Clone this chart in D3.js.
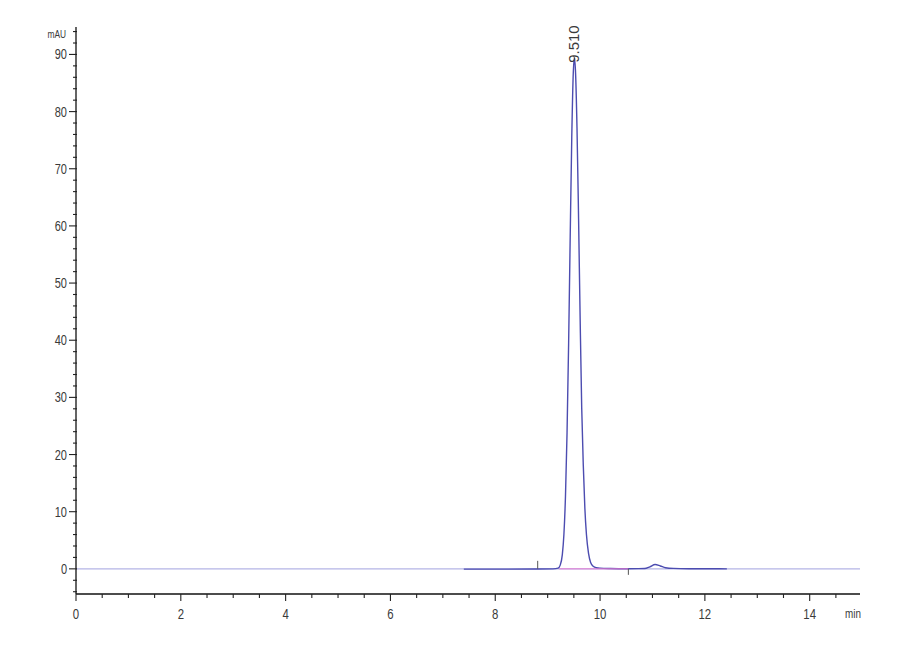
<!DOCTYPE html>
<html>
<head>
<meta charset="utf-8">
<title>Chromatogram</title>
<script src="https://cdn.jsdelivr.net/npm/d3@7"></script>
<style>
  body { margin: 0; background: #fff; }
  svg text { font-family: "Liberation Sans", Arial, sans-serif; fill: #3a3a3a; }
</style>
</head>
<body>
<svg id="chart" width="900" height="660"></svg>
<script>
// signal trace (min, mAU)
var traceTime = [7.40, 8.00, 8.80, 9.10, 9.20, 9.24, 9.28, 9.31, 9.34, 9.37, 9.40, 9.43, 9.46, 9.49, 9.51,
                 9.53, 9.56, 9.59, 9.62, 9.65, 9.68, 9.71, 9.74, 9.78, 9.82, 9.87, 9.93, 10.00, 10.20, 10.50,
                 10.85, 10.95, 11.05, 11.15, 11.25, 11.40, 11.70, 12.00, 12.42];
var traceMAU  = [-0.05, -0.05, -0.02, 0.00, 0.13, 0.65, 2.5, 6.0, 12.7, 23.8, 39.4, 58.0, 75.5, 87.0, 89.4,
                 87.3, 77.1, 61.3, 43.7, 28.1, 18.1, 10.6, 6.0, 2.7, 1.1, 0.45, 0.2, 0.12, 0.06, 0.03,
                 0.05, 0.35, 0.75, 0.5, 0.2, 0.08, 0.03, 0.02, 0.0];

var peakTimes = [9.510];
var peakHeights = [89.4];
var peakLabels = ["9.510"];

// integration marks
var intStart = 8.81, intEnd = 10.54;

var xTicks = [0, 2, 4, 6, 8, 10, 12, 14];
var yTicks = [0, 10, 20, 30, 40, 50, 60, 70, 80, 90];

var svg = d3.select("#chart");

var x = d3.scaleLinear().domain([0, 14.96]).range([76, 860]);
var y = d3.scaleLinear().domain([-4.4, 94.8]).range([594, 27]);

// narrow looking text (the original uses a condensed face)
function narrow(sel, px, py, size, anchor) {
    return sel.append("text")
        .attr("transform", "translate(" + px + "," + py + ") scale(0.76,1)")
        .attr("font-size", size)
        .attr("text-anchor", anchor);
}

// full-range baseline (pale)
svg.append("line")
    .attr("x1", x(0)).attr("x2", x(14.96))
    .attr("y1", y(0)).attr("y2", y(0))
    .attr("stroke", "#b4b4e6").attr("stroke-width", 1.3);

// trace
var line = d3.line().x(function(d, i) { return x(traceTime[i]); })
                    .y(function(d) { return y(d); })
                    .curve(d3.curveMonotoneX);
svg.append("path")
    .datum(traceMAU)
    .attr("d", line)
    .attr("fill", "none")
    .attr("stroke", "#4c4cb0")
    .attr("stroke-width", 1.4);

// integration baseline (pink)
svg.append("line")
    .attr("x1", x(9.22)).attr("x2", x(intEnd))
    .attr("y1", y(0)).attr("y2", y(0))
    .attr("stroke", "#e67ad2").attr("stroke-width", 1);

// event marks
svg.append("line")
    .attr("x1", x(intStart)).attr("x2", x(intStart))
    .attr("y1", y(0)).attr("y2", y(0) - 8)
    .attr("stroke", "#555").attr("stroke-width", 1);
svg.append("line")
    .attr("x1", x(intEnd)).attr("x2", x(intEnd))
    .attr("y1", y(0)).attr("y2", y(0) + 6)
    .attr("stroke", "#555").attr("stroke-width", 1);

// axes
var xAxis = svg.append("g").attr("transform", "translate(0," + y(-4.4) + ")");
xAxis.append("line").attr("x1", x(0)).attr("x2", x(14.96)).attr("stroke", "#111").attr("stroke-width", 1.3);
xAxis.selectAll(".minor").data(d3.range(0, 15, 0.5)).enter().append("line")
    .attr("x1", function(d) { return x(d); }).attr("x2", function(d) { return x(d); })
    .attr("y1", 0).attr("y2", function(d) { return d % 2 === 0 ? 7 : 4; })
    .attr("stroke", "#222").attr("stroke-width", 1.1);
xTicks.forEach(function(d) {
    narrow(xAxis, x(d), 24.5, 15, "middle").text(d);
});
narrow(xAxis, 853, 24, 13, "middle").text("min");

var yAxis = svg.append("g").attr("transform", "translate(" + x(0) + ",0)");
yAxis.append("line").attr("y1", y(94.8)).attr("y2", y(-4.4)).attr("stroke", "#111").attr("stroke-width", 1.3);
yAxis.selectAll(".minor").data(d3.range(-4, 95, 2)).enter().append("line")
    .attr("y1", function(d) { return y(d); }).attr("y2", function(d) { return y(d); })
    .attr("x1", function(d) { return d % 10 === 0 ? -7 : -3; }).attr("x2", 1)
    .attr("stroke", "#222").attr("stroke-width", 1.1);
yTicks.forEach(function(d) {
    narrow(yAxis, -9, y(d) + 5, 14.5, "end").text(d);
});
narrow(yAxis, -10, 37.5, 11, "end").text("mAU");

// peak labels
svg.selectAll(".peak").data(peakLabels).enter().append("text")
    .attr("transform", function(d, i) {
        return "translate(" + (x(peakTimes[i]) + 5) + "," + (y(peakHeights[i]) + 5) + ") rotate(-90)";
    })
    .attr("font-size", 15)
    .text(function(d) { return d; });
</script>
</body>
</html>
